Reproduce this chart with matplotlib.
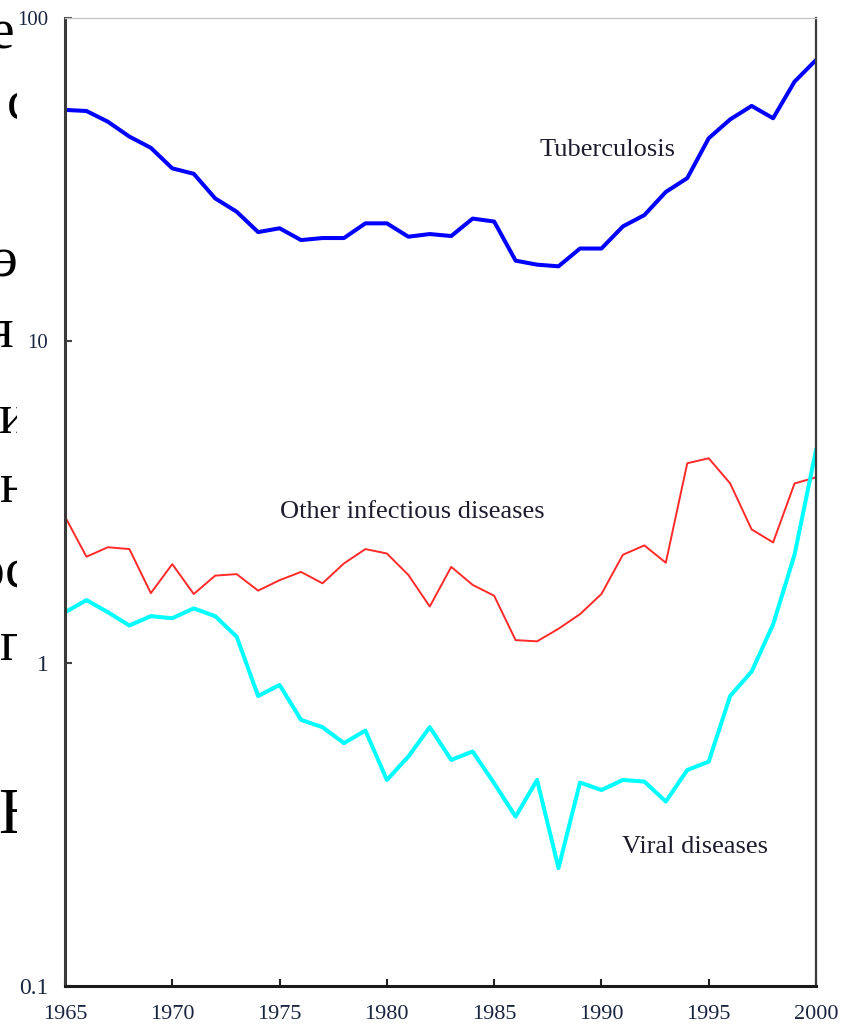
"""
incidence of infectious diseases, 1965-2000, log scale
"""
import matplotlib
matplotlib.use("Agg")
import matplotlib.pyplot as plt
from matplotlib.patches import Rectangle

years = list(range(1965, 2001))

tuberculosis = [51.9, 51.5, 47.7, 42.9, 39.6, 34.2, 32.9, 27.6, 25.1, 21.7,
                22.3, 20.5, 20.8, 20.8, 23.1, 23.1, 21.0, 21.4, 21.1, 23.9,
                23.4, 17.7, 17.2, 17.0, 19.3, 19.3, 22.6, 24.5, 28.9, 31.9,
                42.4, 48.5, 53.4, 48.9, 63.5, 74.1]

other_infectious = [2.85, 2.14, 2.29, 2.26, 1.65, 2.03, 1.64, 1.87, 1.89, 1.68,
                    1.81, 1.92, 1.77, 2.04, 2.26, 2.19, 1.88, 1.50, 1.99, 1.75,
                    1.62, 1.18, 1.17, 1.28, 1.42, 1.64, 2.17, 2.32, 2.05, 4.17,
                    4.32, 3.61, 2.60, 2.37, 3.61, 3.77]

viral = [1.44, 1.57, 1.44, 1.31, 1.40, 1.38, 1.48, 1.40, 1.21, 0.792,
         0.857, 0.668, 0.634, 0.566, 0.619, 0.435, 0.514, 0.634, 0.502, 0.533,
         0.425, 0.335, 0.435, 0.232, 0.427, 0.405, 0.435, 0.430, 0.373, 0.467,
         0.496, 0.792, 0.943, 1.32, 2.17, 4.58]

x_ticks = [1965, 1970, 1975, 1980, 1985, 1990, 1995, 2000]
y_ticks = [0.1, 1, 10, 100]
y_tick_labels = ["0.1", "1", "10", "100"]
y_tick_sizes = [17, 17, 15, 15]

# series names and where they are written on the plot (year, value)
series_labels = ["Tuberculosis", "Other infectious diseases", "Viral diseases"]
label_years = [1990.3, 1981.2, 1994.35]
label_values = [38.9, 2.95, 0.270]

# pieces of the page text that shows at the left edge
page_letters = ["е", "с", "э", "я", "и", "н", "ос", "п", "Н"]
page_letter_x = [-10, 7, -7, -12, -1, 0, -23, 0, -2]
page_letter_base = [48, 120, 277, 347, 433, 502, 587, 660, 833]
page_letter_size = [40, 40, 40, 40, 40, 40, 40, 40, 47]

TICK_COLOR = "#1a2540"
SERIF = ["Liberation Serif", "DejaVu Serif"]

W, H = 854, 1028
fig = plt.figure(figsize=(W / 100, H / 100), dpi=100)
fig.patch.set_facecolor("white")

clip = Rectangle((0, 0), 17 / W, 1, transform=fig.transFigure)
for s, x, base, size in zip(page_letters, page_letter_x,
                            page_letter_base, page_letter_size):
    t = fig.text(x / W, 1 - base / H, s, family=SERIF, fontsize=size,
                 color="black", ha="left", va="baseline")
    t.set_clip_path(clip)

ax = fig.add_axes([65 / W, 42 / H, (816 - 65) / W, (1010 - 42) / H])

ax.plot(years, tuberculosis, color="#0000ff", lw=2.9)
ax.plot(years, other_infectious, color="#ff2a2a", lw=1.4)
ax.plot(years, viral, color="#00ffff", lw=2.9)

ax.set_yscale("log")
ax.set_xlim(1965, 2000)
ax.set_ylim(0.1, 100)

ax.set_xticks(x_ticks)
ax.set_xticklabels([str(y) for y in x_ticks], family=SERIF, fontsize=16,
                   color=TICK_COLOR)
ax.set_yticks(y_ticks)
ax.set_yticklabels(y_tick_labels, family=SERIF, color=TICK_COLOR)
for lab, size in zip(ax.get_yticklabels(), y_tick_sizes):
    lab.set_fontsize(size)
ax.yaxis.set_minor_locator(matplotlib.ticker.NullLocator())

ax.tick_params(axis="x", direction="in", length=5, width=1.5, pad=14,
               color="#222222")
ax.tick_params(axis="y", direction="in", length=5, width=1.5, pad=12,
               color="#444444")

ax.spines["left"].set_linewidth(2.2)
ax.spines["left"].set_color("#3a3a3a")
ax.spines["bottom"].set_linewidth(2.2)
ax.spines["bottom"].set_color("#1a1a1a")
ax.spines["right"].set_linewidth(1.6)
ax.spines["right"].set_color("#3a3a3a")
ax.spines["top"].set_linewidth(1.0)
ax.spines["top"].set_color("#c8c8c8")

for name, yr, val in zip(series_labels, label_years, label_values):
    ax.text(yr, val, name, family=SERIF, fontsize=19, color="#1c1c2c",
            ha="center", va="center")

fig.savefig("out.png", dpi=100)
